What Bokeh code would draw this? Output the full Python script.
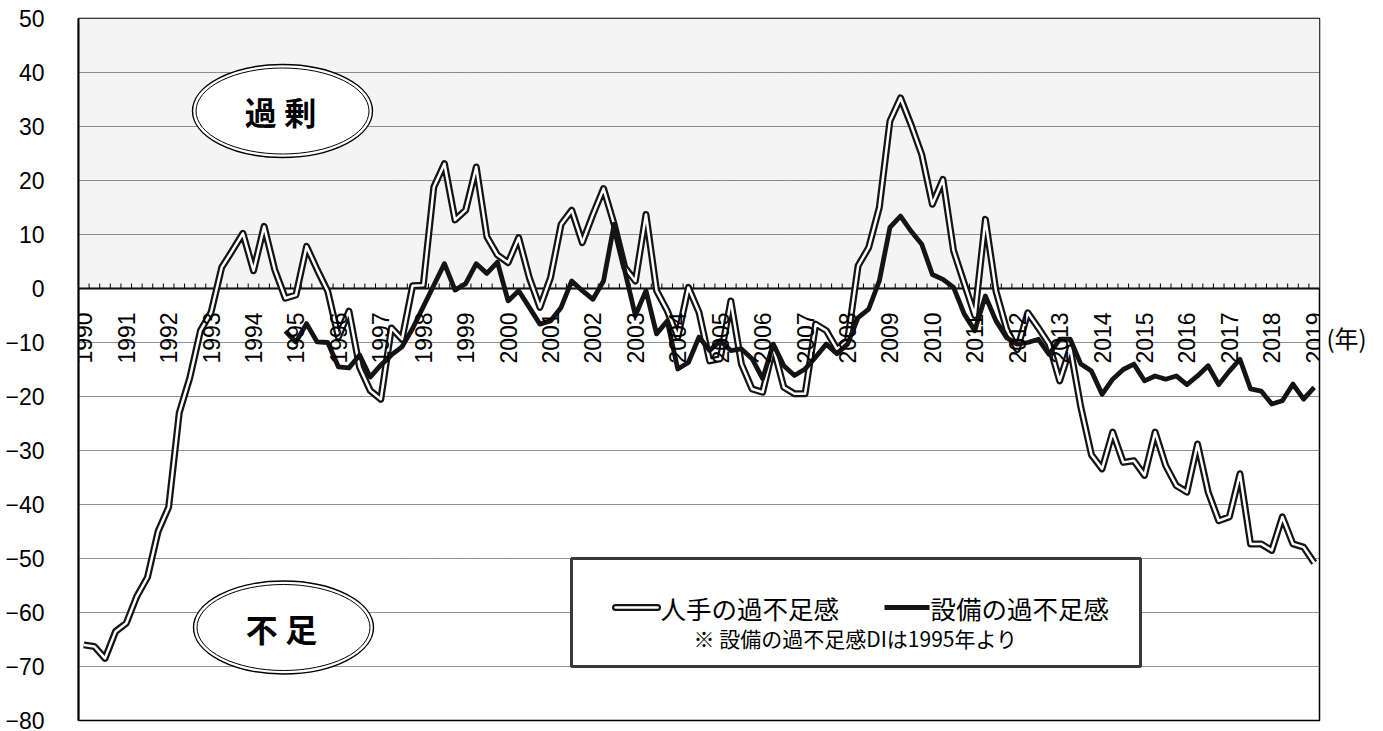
import math

from bokeh.core.properties import value
from bokeh.embed import file_html
from bokeh.models import ColumnDataSource, FixedTicker, LabelSet, LinearAxis, Range1d
from bokeh.plotting import figure
from bokeh.resources import INLINE

# ---------------------------------------------------------------- data
# Quarterly diffusion indexes, 1990Q1 .. 2019Q1
years = list(range(1990, 2020))

labour_di = [
    -66.0, -66.3, -68.5, -63.5,   # 1990
    -62.0, -57.0, -53.5, -45.0,   # 1991
    -40.5, -23.0, -16.5, -7.8,    # 1992
    -4.4, 3.9, 7.0, 10.2,         # 1993
    3.3, 11.5, 3.5, -1.8,         # 1994
    -1.2, 7.8, 3.5, -0.5,         # 1995
    -9.0, -4.2, -14.6, -18.9,     # 1996
    -20.5, -7.3, -9.4, 0.5,       # 1997
    0.6, 18.8, 23.1, 12.7,        # 1998
    14.5, 22.5, 9.6, 6.2,         # 1999
    4.8, 9.4, 2.0, -3.5,          # 2000
    2.0, 11.9, 14.5, 8.5,         # 2001
    13.7, 18.5, 11.9, 3.9,        # 2002
    1.4, 13.7, -0.4, -4.1,        # 2003
    -9.0, 0.2, -4.4, -13.4,       # 2004
    -13.0, -2.3, -14.0, -18.6,    # 2005
    -19.2, -10.9, -18.3, -19.5,   # 2006
    -19.5, -6.6, -7.8, -11.2,     # 2007
    -9.7, 4.2, 7.6, 15.0,         # 2008
    31.0, 35.3, 30.3, 24.8,       # 2009
    15.6, 20.2, 7.0, 1.0,         # 2010
    -5.0, 12.8, -0.5, -7.5,       # 2011
    -11.3, -4.5, -7.3, -10.3,     # 2012
    -17.1, -11.0, -22.0, -30.8,   # 2013
    -33.4, -26.6, -32.2, -31.9,   # 2014
    -34.6, -26.6, -32.8, -36.5,   # 2015
    -37.7, -28.8, -37.7, -43.0,   # 2016
    -42.3, -34.3, -47.3, -47.3,   # 2017
    -48.5, -42.3, -47.3, -47.9,   # 2018
    -50.8,                        # 2019
]

# equipment DI begins with the 1994Q4 survey (quarter index 19)
equipment_start = 19
equipment_di = [
    -7.9,                         # 1994Q4
    -9.9, -6.5, -9.9, -10.0,      # 1995
    -14.5, -14.7, -12.3, -16.4,   # 1996
    -14.2, -12.3, -10.8, -7.4,    # 1997
    -3.4, 0.6, 4.6, -0.3,         # 1998
    0.9, 4.6, 2.8, 4.9,           # 1999
    -2.3, -0.4, -3.5, -6.6,       # 2000
    -6.0, -3.5, 1.4, -0.4,        # 2001
    -2.0, 1.4, 11.9, 3.3,         # 2002
    -5.0, -0.4, -8.4, -6.0,       # 2003
    -14.9, -13.7, -9.0, -11.5,    # 2004
    -9.7, -11.5, -11.2, -13.0,    # 2005
    -16.7, -10.3, -14.3, -16.1,   # 2006
    -14.9, -12.7, -10.3, -12.1,   # 2007
    -10.3, -5.4, -3.8, 1.4,       # 2008
    11.3, 13.4, 10.6, 8.2,        # 2009
    2.6, 1.7, 0.2, -4.7,          # 2010
    -7.8, -1.4, -6.0, -9.1,       # 2011
    -10.3, -10.0, -9.4, -12.2,    # 2012
    -9.4, -9.4, -14.0, -15.3,     # 2013
    -19.6, -16.8, -15.0, -14.0,   # 2014
    -17.1, -16.2, -16.8, -16.2,   # 2015
    -17.8, -16.2, -14.3, -17.8,   # 2016
    -15.3, -13.1, -18.6, -19.0,   # 2017
    -21.4, -20.8, -17.7, -20.5,   # 2018
    -18.3,                        # 2019
]

y_ticks = list(range(-80, 51, 10))
y_tick_labels = {t: str(t).replace("-", "\u2212") for t in y_ticks}

labour_name = "人手の過不足感"
equipment_name = "設備の過不足感"
note_text = "※ 設備の過不足感DIは1995年より"
surplus_text = "過 剰"
shortage_text = "不 足"
year_unit = "(年)"
year_unit_at = -9   # y value beside which the unit label sits

# ---------------------------------------------------------------- layout
W, H = 1383, 731
BORDER_L, BORDER_R, BORDER_T, BORDER_B = 78, 64, 18, 11
n = len(labour_di)
X_LO, X_HI = -0.5, n - 0.5
Y_LO, Y_HI = -80, 50
FRAME_W = W - BORDER_L - BORDER_R
FRAME_H = H - BORDER_T - BORDER_B
PX_PER_UNIT = FRAME_H / (Y_HI - Y_LO)


def dx(px):
    """Page pixel column -> x data coordinate."""
    return X_LO + (px - BORDER_L) / FRAME_W * (X_HI - X_LO)


def dy(py):
    """Page pixel row -> y data coordinate."""
    return Y_HI - (py - BORDER_T) / FRAME_H * (Y_HI - Y_LO)


NUM_FONT = "Liberation Sans"
JP_FONT = "Noto Sans CJK JP"
INK = "#141414"

p = figure(
    width=W, height=H,
    x_range=Range1d(X_LO, X_HI), y_range=Range1d(Y_LO, Y_HI),
    output_backend="svg", toolbar_location=None, tools="",
    x_axis_location=None,
)
p.min_border_left = BORDER_L
p.min_border_right = BORDER_R
p.min_border_top = BORDER_T
p.min_border_bottom = BORDER_B
p.background_fill_color = "white"
p.border_fill_color = "white"
p.outline_line_color = "black"
p.outline_line_width = 1.5

# y axis: plain labels, no tick marks
p.yaxis.ticker = FixedTicker(ticks=y_ticks)
p.yaxis.major_label_overrides = y_tick_labels
p.yaxis.major_tick_in = 0
p.yaxis.major_tick_out = 0
p.yaxis.minor_tick_in = 0
p.yaxis.minor_tick_out = 0
p.yaxis.major_label_standoff = 34
p.yaxis.major_label_text_font = NUM_FONT
p.yaxis.major_label_text_font_size = "23px"
p.yaxis.major_label_text_color = "black"
p.yaxis.axis_line_color = "black"
p.yaxis.axis_line_width = 2

# unit label to the right of the category axis
unit_axis = LinearAxis(
    ticker=FixedTicker(ticks=[year_unit_at]),
    major_label_overrides={year_unit_at: year_unit},
    axis_line_color=None,
    major_tick_in=0, major_tick_out=0, minor_tick_in=0, minor_tick_out=0,
    major_label_standoff=7,
    major_label_text_font=JP_FONT,
    major_label_text_font_size="24px",
    major_label_text_color="black",
)
p.add_layout(unit_axis, "right")

p.ygrid.ticker = FixedTicker(ticks=y_ticks)
p.ygrid.grid_line_color = "#222222"
p.ygrid.grid_line_dash = "1 1"
p.ygrid.grid_line_width = 1
for g in p.xgrid:
    g.visible = False

# shaded "surplus" half above zero
p.quad(left=X_LO, right=X_HI, bottom=0, top=Y_HI,
       fill_color="#f4f4f4", line_color=None, level="image")

# category axis drawn on the zero line: line, quarter ticks, year labels
p.segment(x0=[X_LO], y0=[0], x1=[X_HI], y1=[0],
          line_color="black", line_width=2, level="underlay")
tick_x = [k + 0.5 for k in range(n - 1)]
tick_h = 5 / PX_PER_UNIT
p.segment(x0=tick_x, y0=[0] * len(tick_x), x1=tick_x, y1=[tick_h] * len(tick_x),
          line_color="black", line_width=1, level="underlay")

year_src = ColumnDataSource(dict(
    x=[4 * k for k in range(len(years))],
    y=[0] * len(years),
    text=[str(y) for y in years],
))
p.add_layout(LabelSet(
    x="x", y="y", text="text", source=year_src,
    angle=math.pi / 2, y_offset=-75,
    text_align="left", text_baseline="middle",
    text_font=value(NUM_FONT), text_font_size=value("23px"), text_color="black",
))

# series
x_all = list(range(n))
x_eq = list(range(equipment_start, equipment_start + len(equipment_di)))
p.line(x_all, labour_di, line_color=INK, line_width=7, line_join="round")
p.line(x_all, labour_di, line_color="white", line_width=2.5, line_join="round")
p.line(x_eq, equipment_di, line_color=INK, line_width=4.8, line_join="round")

# double-ringed ovals
for (cx, cy), word in (((282, 110.5), surplus_text), ((283, 627), shortage_text)):
    p.ellipse(x=[dx(cx)], y=[dy(cy)], width=180, height=93,
              width_units="screen", height_units="screen",
              fill_color="white", line_color="black", line_width=1.4)
    p.ellipse(x=[dx(cx)], y=[dy(cy)], width=173, height=86,
              width_units="screen", height_units="screen",
              fill_color=None, line_color="black", line_width=1)
    p.text(x=[dx(cx - 2)], y=[dy(cy)], text=[word],
           text_font=value(JP_FONT), text_font_size="32px", text_font_style="bold",
           text_align="center", text_baseline="middle", text_color="black")

# legend panel
p.quad(left=dx(571), right=dx(1140), top=dy(558), bottom=dy(666),
       fill_color="white", line_color="#383838", line_width=3)
ly = dy(607)
p.segment(x0=[dx(615)], y0=[ly], x1=[dx(657)], y1=[ly],
          line_color=INK, line_width=7, line_cap="round")
p.segment(x0=[dx(615)], y0=[ly], x1=[dx(657)], y1=[ly],
          line_color="white", line_width=2.5, line_cap="round")
p.segment(x0=[dx(884)], y0=[ly], x1=[dx(929)], y1=[ly],
          line_color=INK, line_width=4.8)
p.text(x=[dx(660), dx(930)], y=[ly, ly], text=[labour_name, equipment_name],
       text_font=value(JP_FONT), text_font_size="25.5px",
       text_align="left", text_baseline="middle", text_color="black")
p.text(x=[dx(855)], y=[dy(637)], text=[note_text],
       text_font=value(JP_FONT), text_font_size="21px",
       text_align="center", text_baseline="middle", text_color="black")

open("out.html", "w").write(file_html(p, INLINE))
